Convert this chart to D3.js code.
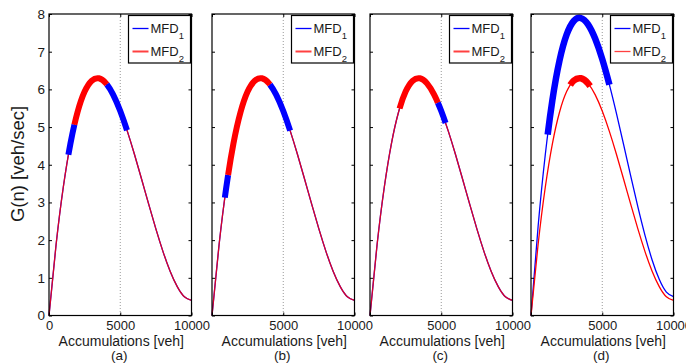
<!DOCTYPE html>
<html>
<head>
<meta charset="utf-8">
<script src="https://cdn.jsdelivr.net/npm/d3@7"></script>
<style>
body { margin: 0; background: #fff; }
text { font-family: "Liberation Sans", Arial, sans-serif; fill: #1a1a1a; }
</style>
</head>
<body>
<svg width="686" height="363"></svg>
<script>
// accumulation samples (veh) and flow values (veh/sec)
var accum = [0, 500, 1000, 1500, 2000, 2500, 3000, 3500, 4000, 4500, 5000,
             5500, 6000, 6500, 7000, 7500, 8000, 8500, 9000, 9500, 10000];
// common MFD (both MFDs in a-c, MFD2 in d)
var mfdBase = [0, 1.889, 3.397, 4.554, 5.392, 5.941, 6.231, 6.294, 6.160, 5.860, 5.425,
               4.885, 4.272, 3.616, 2.947, 2.297, 1.696, 1.175, 0.765, 0.496, 0.400];
// MFD1 in panel (d)
var mfdHigh = [0, 2.369, 4.260, 5.711, 6.762, 7.450, 7.814, 7.893, 7.725, 7.348, 6.803,
               6.126, 5.357, 4.535, 3.696, 2.880, 2.127, 1.474, 0.959, 0.622, 0.502];

var panelNames = ["(a)", "(b)", "(c)", "(d)"];
var legendSubs = ["1", "2"];
var xTicks = [0, 5000, 10000];
var yTicks = [0, 1, 2, 3, 4, 5, 6, 7, 8];

// operating ranges drawn thick: [series, from, to]
var rangesA = [[1, 1360, 1780], [2, 1780, 4060], [1, 4060, 5470]];
var rangesB = [[1, 900, 1130], [2, 1130, 4070], [1, 4070, 5480]];
var rangesC = [[2, 2070, 4760], [1, 4760, 5300]];
var rangesD = [[1, 1170, 5500], [2, 2750, 4150]];

var panels = [
  {name: panelNames[0], mfd1: mfdBase, mfd2: mfdBase, ranges: rangesA},
  {name: panelNames[1], mfd1: mfdBase, mfd2: mfdBase, ranges: rangesB},
  {name: panelNames[2], mfd1: mfdBase, mfd2: mfdBase, ranges: rangesC},
  {name: panelNames[3], mfd1: mfdHigh, mfd2: mfdBase, ranges: rangesD}
];

var panelLeft = [49, 212, 370, 531];
var pw = 142.5, plotTop = 14, plotBottom = 315.5;
var colors = {1: "#0000ff", 2: "#ff0000"};

var svg = d3.select("svg");

svg.append("text")
    .attr("transform", "translate(24,164) rotate(-90)")
    .attr("text-anchor", "middle")
    .attr("font-size", 18.5)
    .text("G(n) [veh/sec]");

// path length where the curve reaches screen x = px
function lengthAt(node, px) {
  var lo = 0, hi = node.getTotalLength();
  for (var it = 0; it < 40; it++) {
    var mid = (lo + hi) / 2;
    if (node.getPointAtLength(mid).x < px) lo = mid; else hi = mid;
  }
  return lo;
}

panels.forEach(function(p, i) {
  var left = panelLeft[i];
  var x = d3.scaleLinear().domain([0, 10000]).range([left, left + pw]);
  var y = d3.scaleLinear().domain([0, 8]).range([plotBottom, plotTop]);
  var line = d3.line()
      .x((d, j) => x(accum[j]))
      .y(d => y(d))
      .curve(d3.curveNatural);
  var g = svg.append("g");

  g.append("rect")
      .attr("x", left).attr("y", plotTop)
      .attr("width", pw).attr("height", plotBottom - plotTop)
      .attr("fill", "#fff");

  // dotted grid at 5000
  g.append("line")
      .attr("x1", x(5000)).attr("x2", x(5000))
      .attr("y1", plotTop).attr("y2", plotBottom)
      .attr("stroke", "#999").attr("stroke-width", 1)
      .attr("stroke-dasharray", "1,2");

  var series = {1: p.mfd1, 2: p.mfd2};

  g.append("path").datum(p.mfd1)
      .attr("fill", "none").attr("stroke", colors[1])
      .attr("stroke-width", 1.3).attr("d", line);
  g.append("path").datum(p.mfd2)
      .attr("fill", "none").attr("stroke", colors[2])
      .attr("stroke-width", 1.3)
      .attr("stroke-opacity", i < 3 ? 0.85 : 1)
      .attr("d", line);

  p.ranges.forEach(function(r) {
    var path = g.append("path").datum(series[r[0]])
        .attr("fill", "none").attr("stroke", colors[r[0]])
        .attr("stroke-width", i < 3 ? 6 : 6.5)
        .attr("d", line);
    var node = path.node();
    var total = node.getTotalLength();
    var l0 = lengthAt(node, x(r[1])), l1 = lengthAt(node, x(r[2]));
    path.attr("stroke-dasharray", `0,${l0},${l1 - l0},${total}`);
  });

  // axes with inward ticks
  g.append("g")
      .attr("transform", `translate(${left},0)`)
      .call(d3.axisLeft(y).tickValues(yTicks).tickSizeInner(-3).tickSizeOuter(0)
          .tickPadding(4).tickFormat(d3.format("d")))
      .call(a => a.select(".domain").remove())
      .call(a => a.selectAll("text").attr("font-size", 13.5).attr("font-family", null))
      .call(a => { if (i > 0) a.selectAll("text").remove(); });
  g.append("g")
      .attr("transform", `translate(${left + pw},0)`)
      .call(d3.axisRight(y).tickValues(yTicks).tickSizeInner(-3).tickSizeOuter(0))
      .call(a => a.select(".domain").remove())
      .call(a => a.selectAll("text").remove());
  g.append("g")
      .attr("transform", `translate(0,${plotBottom})`)
      .call(d3.axisBottom(x).tickValues(xTicks).tickSizeInner(-3).tickSizeOuter(0)
          .tickPadding(5).tickFormat(d3.format("d")))
      .call(a => a.select(".domain").remove())
      .call(a => a.selectAll("text").attr("font-size", 13).attr("font-family", null))
      .call(a => a.selectAll("text").filter(d => i > 0 && d === 0).remove());
  g.append("g")
      .attr("transform", `translate(0,${plotTop})`)
      .call(d3.axisTop(x).tickValues(xTicks).tickSizeInner(-3).tickSizeOuter(0))
      .call(a => a.select(".domain").remove())
      .call(a => a.selectAll("text").remove());

  g.append("rect")
      .attr("x", left).attr("y", plotTop)
      .attr("width", pw).attr("height", plotBottom - plotTop)
      .attr("fill", "none").attr("stroke", "#000").attr("stroke-width", 1.2);

  g.append("text")
      .attr("x", left + pw / 2 + 1).attr("y", 346)
      .attr("text-anchor", "middle").attr("font-size", 14)
      .text("Accumulations [veh]");
  g.append("text")
      .attr("x", left + pw / 2 - 1).attr("y", 360)
      .attr("text-anchor", "middle").attr("font-size", 13.5)
      .text(p.name);

  // legend
  var lg = g.append("g").attr("transform", `translate(${left + pw - 63},${plotTop + 1.5})`);
  lg.append("rect").attr("width", 62).attr("height", 47.5)
      .attr("fill", "#fff").attr("stroke", "#000").attr("stroke-width", 1.2);
  legendSubs.forEach(function(s, k) {
    var yy = 13 + k * 23;
    lg.append("line")
        .attr("x1", 4).attr("x2", 20).attr("y1", yy).attr("y2", yy)
        .attr("stroke", colors[k + 1])
        .attr("stroke-width", (k === 1 && i < 3) ? 2 : 1.3)
        .attr("stroke-opacity", k === 1 ? 0.75 : 1);
    var t = lg.append("text").attr("x", 22).attr("y", yy + 4.5).attr("font-size", 13);
    t.append("tspan").text("MFD");
    t.append("tspan").attr("dy", 6).attr("font-size", 9.5).text(s);
  });
});
</script>
</body>
</html>
